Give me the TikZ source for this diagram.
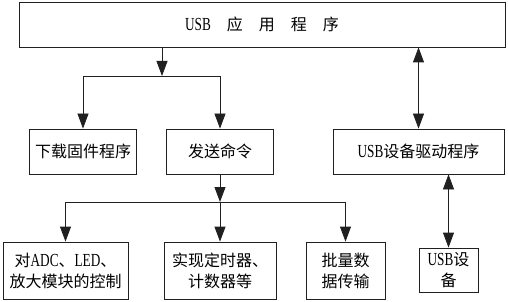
\documentclass[tikz,border=0pt]{standalone}
\usepackage{fontspec}
\setmainfont{Noto Sans CJK SC}
\newfontfamily\lat[FakeStretch=0.72,Scale=1.15]{Liberation Serif}
\usetikzlibrary{arrows.meta}
\definecolor{ln}{HTML}{202020}
\begin{document}
\begin{tikzpicture}[x=1pt,y=-1pt,
  box/.style={draw=ln, line width=0.8pt, inner sep=0pt, align=center,
    font=\fontsize{16}{21}\selectfont},
  arr/.style={draw=ln, line width=0.8pt, -{Triangle[length=15pt,width=11pt]}},
  darr/.style={draw=ln, line width=0.8pt,
    {Triangle[length=15pt,width=11pt]}-{Triangle[length=15pt,width=11pt]}},
  ln/.style={draw=ln, line width=0.8pt}]
\useasboundingbox (0,0) rectangle (508,302);
% nodes
\node[box, minimum width=486pt, minimum height=45pt] (top) at (262,24.5)
  {{\lat USB}\quad 应\quad 用\quad 程\quad 序};
\node[box, minimum width=107pt, minimum height=45pt] (dl) at (83,151.5) {下载固件程序};
\node[box, minimum width=107pt, minimum height=45pt] (fs) at (220,151.5) {发送命令};
\node[box, minimum width=171pt, minimum height=45pt] (drv) at (418.5,151.5) {{\lat USB}设备驱动程序};
\node[box, minimum width=125pt, minimum height=57pt] (b1) at (65.5,270.5)
  {对{\lat ADC}、{\lat LED}、\\放大模块的控制};
\node[box, minimum width=112pt, minimum height=57pt] (b2) at (220,270.5)
  {实现定时器、\\计数器等};
\node[box, minimum width=79pt, minimum height=57pt] (b3) at (345.5,270.5)
  {批量数\\据传输};
\node[box, minimum width=59pt, minimum height=44pt] (dev) at (448.5,270)
  {{\lat USB}设\\备};
% junctions
\coordinate (j1) at (162,76);
\coordinate (j2) at (220,202);
% connectors
\draw[arr] (top.south -| j1) -- (j1);
\draw[arr] (j1) -| (dl.north);
\draw[arr] (j1) -| (fs.north);
\draw[arr] (fs.south) -- (j2);
\draw[arr] (j2) -| (b1.north);
\draw[arr] (j2) -- (b2.north);
\draw[arr] (j2) -| (b3.north);
\draw[darr] (drv.north) -- (drv.north |- top.south);
\draw[darr] (dev.north) -- (dev.north |- drv.south);
\end{tikzpicture}
\end{document}
